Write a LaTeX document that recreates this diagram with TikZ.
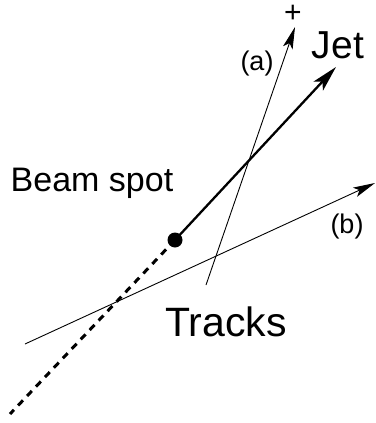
\documentclass[tikz,border=0pt]{standalone}
\usepackage{fontspec}
\setmainfont{Liberation Sans}
\usetikzlibrary{arrows.meta}

\tikzset{
  track/.style={line width=0.9pt,-{Stealth[length=22pt,width=10pt,inset=5pt]}},
  jetline/.style={line width=2.3pt,-{Stealth[length=26pt,width=13pt,inset=6pt]}},
  beamline/.style={line width=3pt,dash pattern=on 7pt off 6pt},
  biglabel/.style={font=\fontsize{36}{40}\selectfont,inner sep=0pt},
  smalllabel/.style={font=\fontsize{27}{30}\selectfont,inner sep=0pt}
}

\begin{document}
\begin{tikzpicture}[x=1pt,y=-1pt]
  \useasboundingbox (0,0) rectangle (375,423);

  % --- Beam spot and jet axis ---
  \node[circle,fill=black,inner sep=0pt,minimum size=15pt] (spot) at (175,240) {};
  \coordinate (jettip) at (336,67);
  \coordinate (beamend) at (10,414);
  \draw[jetline] (spot.center) -- (jettip);
  \draw[beamline] (spot.center) -- (beamend);

  % --- Tracks ---
  \coordinate (astart) at (206,285);
  \coordinate (atip) at (295,27);
  \coordinate (bstart) at (25,344);
  \coordinate (btip) at (375,183);
  \draw[track] (astart) -- (atip);
  \draw[track] (bstart) -- (btip);

  % Labels
  \node[biglabel,font=\fontsize{39}{44}\selectfont] (jet) at (338,45) {Jet};
  \node[biglabel,font=\fontsize{34}{40}\selectfont] (beam) at (92,183) {Beam spot};
  \node[biglabel,font=\fontsize{41}{46}\selectfont] (tracks) at (226,322) {Tracks};
  \node[smalllabel] (la) at (257,64) {(a)};
  \node[smalllabel] (lb) at (347,227) {(b)};
  \node[inner sep=0pt,font=\fontsize{30}{32}\selectfont] (plus) at (293,14) {+};
\end{tikzpicture}
\end{document}
